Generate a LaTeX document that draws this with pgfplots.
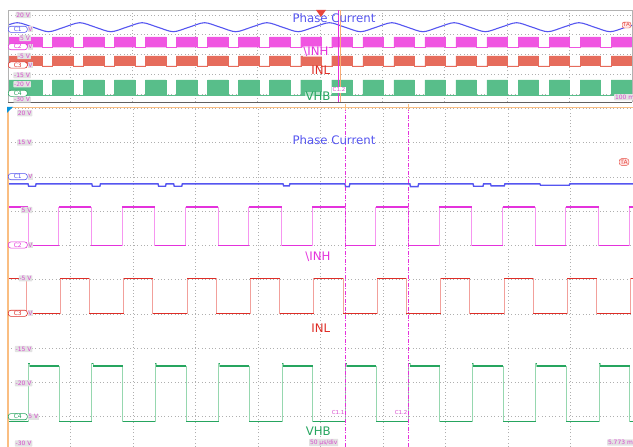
\documentclass[border=0pt]{standalone}
\usepackage{pgfplots}
\pgfplotsset{compat=1.18}
\usepackage{pgfplotstable}
\usepackage{fontspec}
\setmainfont{DejaVu Sans}

\definecolor{bluec}{RGB}{85,85,240}
\definecolor{magc}{RGB}{228,50,220}
\definecolor{magl}{RGB}{246,150,240}
\definecolor{redc}{RGB}{222,45,38}
\definecolor{redl}{RGB}{242,160,155}
\definecolor{grnc}{RGB}{38,165,95}
\definecolor{grnl}{RGB}{150,215,175}
\definecolor{magblk}{RGB}{240,85,225}
\definecolor{redblk}{RGB}{230,108,92}
\definecolor{grnblk}{RGB}{88,190,138}
\definecolor{orng}{RGB}{250,190,130}
\definecolor{gridc}{RGB}{175,175,175}
\definecolor{lblbg}{RGB}{226,226,226}
\definecolor{lbltx}{RGB}{215,75,205}
\definecolor{trig}{RGB}{230,70,60}

% top overview panel: PWM bursts (t in us, 100 us/div)
\pgfplotstableread{
t inh inl vhb
0 1.16 -9.75 -26.85
0 7.28 -3.92 -17.92
54.1 1.16 -9.75 -26.85
71.0 7.28 -3.92 -17.92
103.9 1.16 -9.75 -26.85
120.8 7.28 -3.92 -17.92
153.6 1.16 -9.75 -26.85
170.5 7.28 -3.92 -17.92
203.4 1.16 -9.75 -26.85
220.3 7.28 -3.92 -17.92
253.2 1.16 -9.75 -26.85
270.0 7.28 -3.92 -17.92
302.9 1.16 -9.75 -26.85
319.8 7.28 -3.92 -17.92
352.7 1.16 -9.75 -26.85
369.6 7.28 -3.92 -17.92
402.4 1.16 -9.75 -26.85
419.3 7.28 -3.92 -17.92
452.2 1.16 -9.75 -26.85
469.1 7.28 -3.92 -17.92
501.9 1.16 -9.75 -26.85
518.8 7.28 -3.92 -17.92
551.7 1.16 -9.75 -26.85
568.6 7.28 -3.92 -17.92
601.5 1.16 -9.75 -26.85
618.4 7.28 -3.92 -17.92
651.2 1.16 -9.75 -26.85
668.1 7.28 -3.92 -17.92
701.0 1.16 -9.75 -26.85
717.9 7.28 -3.92 -17.92
750.7 1.16 -9.75 -26.85
767.6 7.28 -3.92 -17.92
800.5 1.16 -9.75 -26.85
817.4 7.28 -3.92 -17.92
850.3 1.16 -9.75 -26.85
867.2 7.28 -3.92 -17.92
900.0 1.16 -9.75 -26.85
916.9 7.28 -3.92 -17.92
949.8 1.16 -9.75 -26.85
966.7 7.28 -3.92 -17.92
999.5 1.16 -9.75 -26.85
}\topblocks

% main panel (t in us, 50 us/div)
\pgfplotstableread{
t v
0 5.6
16.0 0
40.6 5.6
66.7 0
91.3 5.6
117.4 0
142.0 5.6
168.2 0
192.7 5.6
218.9 0
243.4 5.6
269.6 0
294.2 5.6
320.3 0
344.9 5.6
371.0 0
395.6 5.6
421.8 0
446.3 5.6
472.5 0
497.0 5.6
500 5.6
}\inh

\pgfplotstableread{
t v
0 -4.85
14.4 -9.95
41.8 -4.85
65.1 -9.95
92.5 -4.85
115.8 -9.95
143.2 -4.85
166.6 -9.95
193.9 -4.85
217.3 -9.95
244.6 -4.85
268.0 -9.95
295.4 -4.85
318.7 -9.95
346.1 -4.85
369.4 -9.95
396.8 -4.85
420.2 -9.95
447.5 -4.85
470.9 -9.95
498.2 -4.85
500 -4.85
}\inl

\pgfplotstableread{
t v
0 -25.7
16.3 -17.2
17.3 -17.6
41.0 -25.7
67.0 -17.2
68.0 -17.6
91.7 -25.7
117.7 -17.2
118.7 -17.6
142.4 -25.7
168.5 -17.2
169.5 -17.6
193.1 -25.7
219.2 -17.2
220.2 -17.6
243.8 -25.7
269.9 -17.2
270.9 -17.6
294.6 -25.7
320.6 -17.2
321.6 -17.6
345.3 -25.7
371.3 -17.2
372.3 -17.6
396.0 -25.7
422.1 -17.2
423.1 -17.6
446.7 -25.7
472.8 -17.2
473.8 -17.6
497.4 -25.7
500 -25.7
}\vhb

\begin{document}
\begin{tikzpicture}
\useasboundingbox (0bp,0bp) rectangle (633bp,447bp);

% ---------------- top overview panel ----------------
\begin{axis}[at={(8bp,345bp)}, anchor=south west, scale only axis,
  width=624bp, height=92bp,
  xmin=0, xmax=1000, ymin=-30.76, ymax=22.92,
  axis line style={draw=none},
  xtick={100,200,...,900}, ytick={-26.1,-14.6,-3.1,8.45,20},
  xticklabels={}, yticklabels={}, major tick length=0pt,
  grid=major, major grid style={gridc, line width=0.8bp, dash pattern=on 1bp off 2.4bp}]
\addplot[const plot mark left, fill=magblk, draw=magblk, line width=0.4bp] table[x=t,y=inh]{\topblocks};
\addplot[const plot mark left, fill=redblk, draw=redblk, line width=0.4bp] table[x=t,y=inl]{\topblocks};
\addplot[const plot mark left, fill=grnblk, draw=grnblk, line width=0.4bp] table[x=t,y=vhb]{\topblocks};
\addplot[grnblk, line width=1bp] coordinates {(0,-26.85)(1000,-26.85)};
\addplot[bluec, smooth, line width=1.1bp] coordinates {
(-10,12.88)(15,15.51)(40,12.88)(65,10.25)(90,12.88)(115,15.51)(140,12.88)(165,10.25)
(190,12.88)(215,15.51)(240,12.88)(265,10.25)(290,12.88)(315,15.51)(340,12.88)(365,10.25)
(390,12.88)(415,15.51)(440,12.88)(465,10.25)(490,12.88)(515,15.51)(540,12.88)(565,10.25)
(590,12.88)(615,15.51)(640,12.88)(665,10.25)(690,12.88)(715,15.51)(740,12.88)(765,10.25)
(790,12.88)(815,15.51)(840,12.88)(865,10.25)(890,12.88)(915,15.51)(940,12.88)(965,10.25)
(990,12.88)(1015,15.51)};
\end{axis}

% ---------------- main zoomed panel ----------------
\begin{axis}[at={(8bp,0bp)}, anchor=south west, scale only axis,
  width=625bp, height=340bp,
  xmin=0, xmax=500, ymin=-29.42, ymax=20.22,
  axis line style={draw=none},
  xtick={50,100,...,450}, ytick={-25,-20,...,20},
  xticklabels={}, yticklabels={}, major tick length=0pt,
  grid=major, major grid style={gridc, line width=0.8bp, dash pattern=on 1bp off 2.4bp}]
\addplot[bluec, line width=1.4bp] coordinates {
(0,9.0)(16,9.0)(16.5,8.65)(22,8.65)(22.5,9.0)(67,9.0)(67.5,8.65)(73.5,8.65)(74,9.0)
(120,9.0)(120.5,8.65)(126,8.65)(126.5,9.0)(132.5,9.0)(133,8.65)(139,8.65)(139.5,9.0)
(220,9.0)(220.5,8.7)(225,8.7)(225.5,9.0)(269.6,9.0)(270,8.6)(273,8.6)(273.5,9.0)
(321.5,9.0)(322,8.6)(328,8.6)(328.5,9.0)(372,9.0)(372.5,8.65)(380,8.65)(380.5,9.0)
(386,9.0)(386.5,8.7)(397,8.7)(397.5,9.0)(425.5,9.0)(426,8.8)(449,8.8)(449.5,9.0)(500,9.0)};
\addplot[const plot mark left, magl, line width=1bp] table[x=t,y=v]{\inh};
\addplot[jump mark left, magc, line width=1.3bp] table[x=t,y=v]{\inh};
\addplot[const plot mark left, redl, line width=1bp] table[x=t,y=v]{\inl};
\addplot[jump mark left, redc, line width=1.3bp] table[x=t,y=v]{\inl};
\addplot[const plot mark left, grnl, line width=1bp] table[x=t,y=v]{\vhb};
\addplot[jump mark left, grnc, line width=1.3bp] table[x=t,y=v]{\vhb};
\draw[magc, line width=0.8bp, dash pattern=on 4bp off 1.5bp on 1bp off 1.5bp] (axis cs:269.6,-29.42) -- (axis cs:269.6,20.22);
\draw[magc, line width=0.8bp, dash pattern=on 4bp off 1.5bp on 1bp off 1.5bp] (axis cs:320,-29.42) -- (axis cs:320,20.22);
\end{axis}

% ---------------- overlays (pixel coordinates, y downwards) ----------------
\begin{scope}[shift={(0bp,447bp)}, x=1bp, y=-1bp,
  glbl/.style={fill=lblbg, text=lbltx, font=\fontsize{6}{6}\selectfont, inner sep=0.8bp, anchor=east, rounded corners=0.5bp},
  vlbl/.style={fill=lblbg, text=lbltx, font=\fontsize{6}{6}\selectfont, inner sep=0.8bp, anchor=west},
  tag/.style={draw=#1, fill=white, text=#1, font=\fontsize{6}{6}\selectfont, rounded corners=2.5bp, inner xsep=2bp, inner ysep=0.8bp, anchor=west, line width=0.6bp, minimum width=19bp},
  ttl/.style={font=\fontsize{11.8}{12}\selectfont, inner sep=0.5bp}]
% frames
\draw[gray!60, line width=0.8bp] (8,10) -- (632,10) -- (632,102) (8,102) -- (8,10);
\draw[gray!75!black, line width=1.2bp] (8,102.6) -- (632,102.6);
\draw[orng, line width=1.4bp] (8,107.7) -- (633,107.7);
\draw[orng, line width=2bp] (8,107) -- (8,447);
\fill[cyan!80!blue] (7,107) -- (13,107) -- (7,113) -- cycle;
% top panel cursor / trigger
\draw[magc, line width=0.7bp] (338,10) -- (338,102);
\draw[orng!90!red, line width=1bp] (340,10) -- (340,102);
\fill[trig] (316,10) -- (326,10) -- (321,17) -- cycle;
\draw[orng, line width=1bp] (345,104) -- (345,110) (408,104) -- (408,110);
% top panel texts
\node[ttl, text=bluec] at (334,18.3) {Phase Current};
\node[ttl, text=magc, fill=white, fill opacity=0.55, text opacity=1] at (316,51.5) {\textbackslash INH};
\node[ttl, text=redc] at (320.7,70) {INL};
\node[ttl, text=grnc, fill=white, fill opacity=0.55, text opacity=1] at (318,96.5) {VHB};
\node[font=\fontsize{5.5}{6}\selectfont, text=lbltx, fill=white, inner sep=0.6bp] at (339,90) {C1.2};
\node[glbl, anchor=west] at (614,97.3) {100 m};
\node[draw=trig, fill=red!10, text=trig, font=\fontsize{5.5}{6}\selectfont, rounded corners=2bp, inner sep=1bp, anchor=west] at (622,25) {TA};
% top panel left labels
\node[glbl] at (31,15) {20 V};
\node[tag=bluec] at (8,29.3) {C1};
\node[vlbl] at (27.5,29.3) {V};
\node[glbl] at (31,38) {5 V};
\node[tag=magc] at (8,46.7) {C2};
\node[vlbl] at (27.5,46.7) {V};
\node[glbl] at (31,56) {-5 V};
\node[tag=redc] at (8,65) {C3};
\node[vlbl] at (27.5,65) {V};
\node[glbl] at (31,75.3) {-15 V};
\node[glbl] at (31,84.3) {-20 V};
\node[tag=grnc] at (8,93.3) {C4};
\node[glbl] at (31,99.6) {-30 V};
% main panel texts
\node[ttl, text=bluec] at (334,140.5) {Phase Current};
\node[ttl, text=magc] at (318,257) {\textbackslash INH};
\node[ttl, text=redc] at (320.7,328.3) {INL};
\node[ttl, text=grnc] at (318.3,431.7) {VHB};
\node[font=\fontsize{5.5}{6}\selectfont, text=lbltx, anchor=east, inner sep=0.5bp] at (345,412.3) {C1.1};
\node[font=\fontsize{5.5}{6}\selectfont, text=lbltx, anchor=east, inner sep=0.5bp] at (408,412.3) {C1.2};
\node[glbl, anchor=west] at (309,442.5) {50 µs/div};
\node[glbl, anchor=west] at (607,442.5) {5.773 m};
\node[draw=trig, fill=red!10, text=trig, font=\fontsize{6}{6}\selectfont, rounded corners=2.5bp, inner sep=1.2bp, anchor=west] at (619,162) {TA};
% main panel left labels
\node[glbl] at (32.5,113.3) {20 V};
\node[glbl] at (32.5,142.7) {15 V};
\node[tag=bluec] at (8,176.7) {C1};
\node[vlbl] at (27.5,176.7) {V};
\node[glbl] at (32.5,210) {5 V};
\node[tag=magc] at (8,245) {C2};
\node[vlbl] at (27.5,245) {V};
\node[glbl] at (32.5,278.3) {-5 V};
\node[tag=redc] at (8,313.3) {C3};
\node[vlbl] at (27.5,313.3) {V};
\node[glbl] at (32.5,349) {-15 V};
\node[glbl] at (32.5,383.3) {-20 V};
\node[tag=grnc] at (8,416.7) {C4};
\node[vlbl] at (27.5,416.7) {5 V};
\node[glbl] at (32.5,443.5) {-30 V};
\end{scope}
\end{tikzpicture}
\end{document}
